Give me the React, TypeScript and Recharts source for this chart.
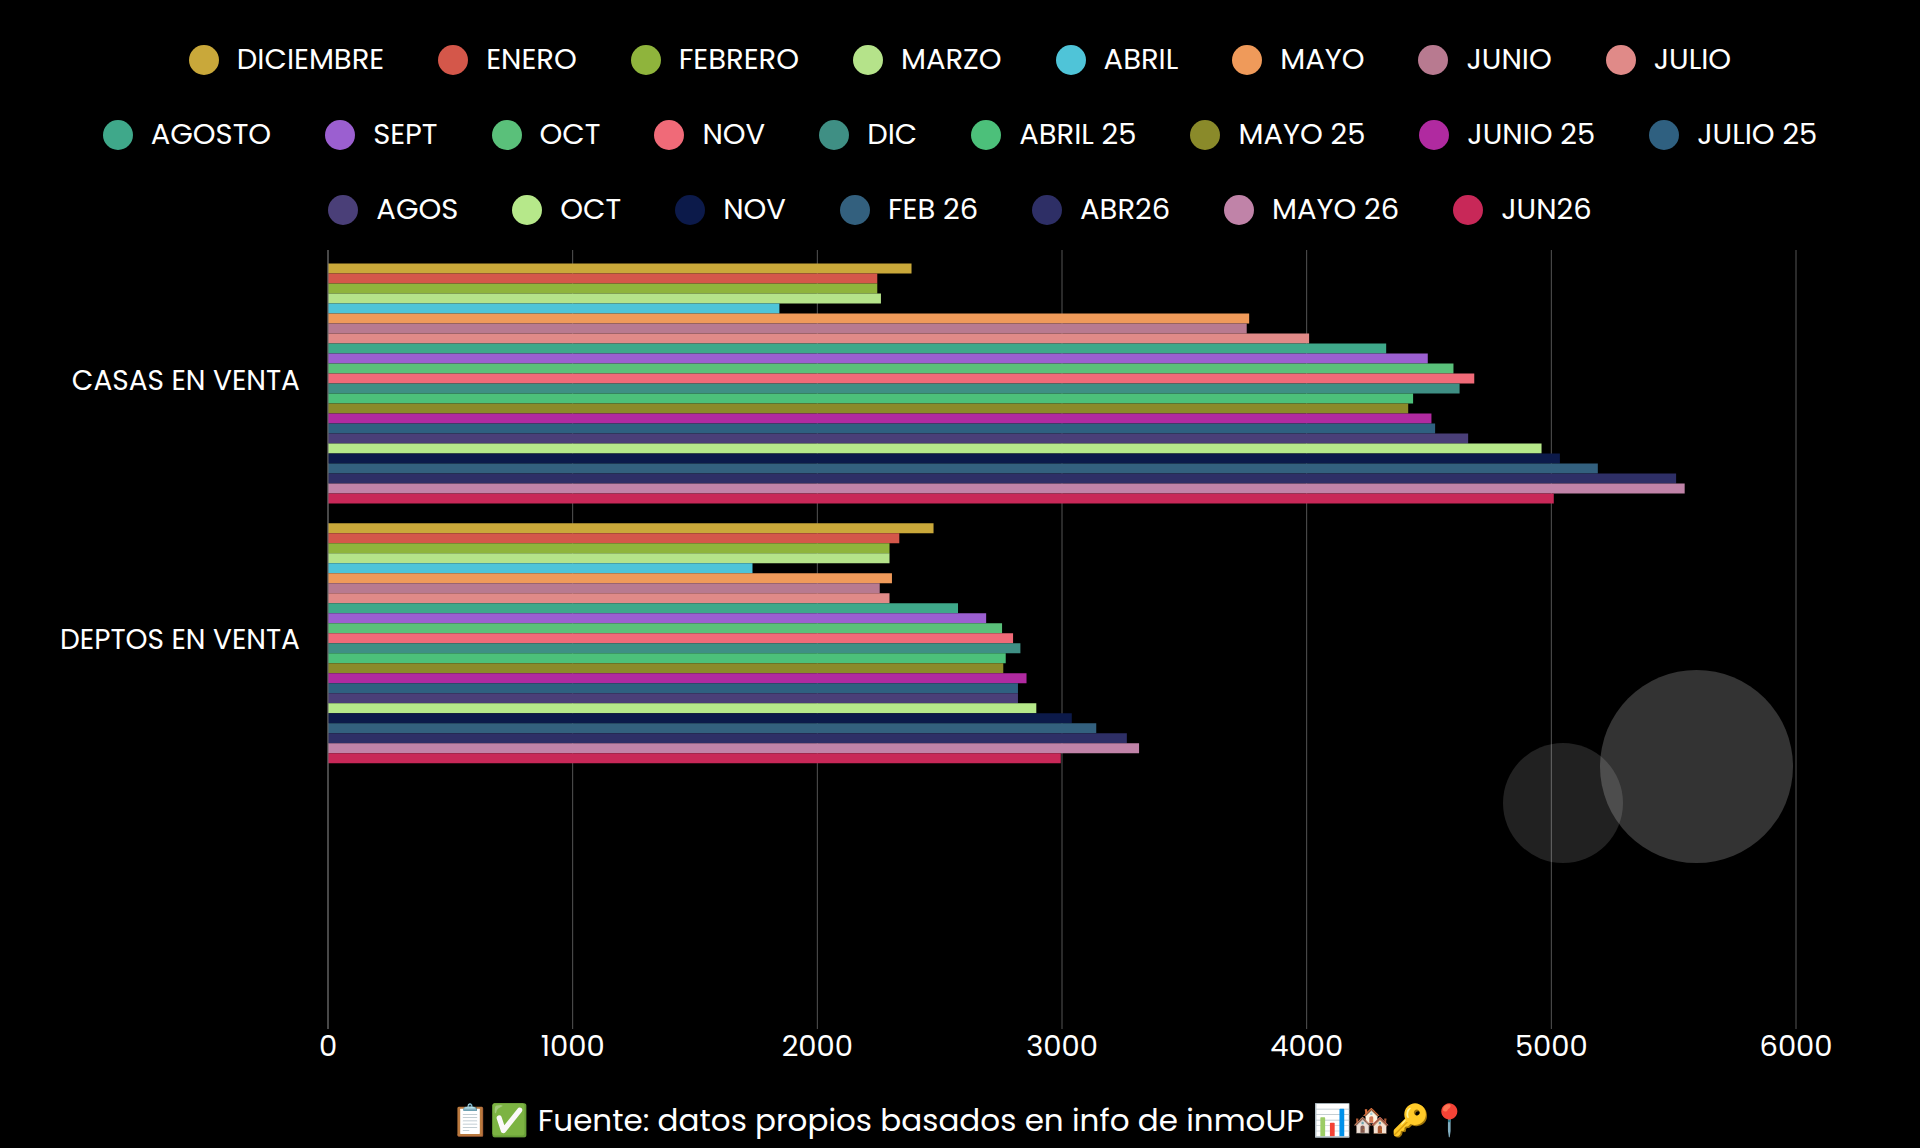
import React from 'react'
import { Bar, BarChart, CartesianGrid, XAxis, YAxis } from 'recharts'

const categories = ['CASAS EN VENTA', 'DEPTOS EN VENTA', '']
const seriesNames = ['DICIEMBRE', 'ENERO', 'FEBRERO', 'MARZO', 'ABRIL', 'MAYO', 'JUNIO', 'JULIO', 'AGOSTO', 'SEPT', 'OCT', 'NOV', 'DIC', 'ABRIL 25', 'MAYO 25', 'JUNIO 25', 'JULIO 25', 'AGOS', 'OCT ', 'NOV ', 'FEB 26', 'ABR26', 'MAYO 26', 'JUN26']
const colors = ['#c9a83a', '#d4574a', '#8fb43c', '#b5e38a', '#4fc4d8', '#ef9a5a', '#b87a90', '#e08a88', '#3fa88a', '#9b5fd0', '#5ac07a', '#f06a78', '#3f8f84', '#4cc07a', '#8a8a2a', '#b02aa0', '#2f6080', '#4a3f78', '#b6e88a', '#0c1a4a', '#33607e', '#2e2f66', '#c083a8', '#c82858']
const casas = [2385, 2245, 2245, 2260, 1845, 3765, 3755, 4010, 4325, 4495, 4600, 4685, 4625, 4435, 4415, 4510, 4525, 4660, 4960, 5035, 5190, 5510, 5545, 5010]
const deptos = [2475, 2335, 2295, 2295, 1735, 2305, 2255, 2295, 2575, 2690, 2755, 2800, 2830, 2770, 2760, 2855, 2820, 2820, 2895, 3040, 3140, 3265, 3315, 2995]
const ticks = [0, 1000, 2000, 3000, 4000, 5000, 6000]
const legendRows = [[0, 8], [8, 17], [17, 24]]

const data = categories.map((c, ci) => {
  const row: Record<string, string | number | null> = { name: c }
  seriesNames.forEach((s, i) => {
    row['s' + i] = ci === 0 ? casas[i] : ci === 1 ? deptos[i] : null
  })
  return row
})

const font = 'Poppins, "Open Sans", sans-serif'

export default function App() {
  return (
    <div style={{ position: 'fixed', left: 0, top: 0, width: 1920, height: 1148, background: '#000', fontFamily: font, color: '#fff', overflow: 'hidden' }}>
      {legendRows.map(([a, b], r) => (
        <div key={r} style={{ position: 'absolute', top: 38 + r * 75, left: 0, width: 1920, display: 'flex', justifyContent: 'center', gap: 54 }}>
          {seriesNames.slice(a, b).map((s, k) => (
            <div key={k} style={{ display: 'flex', alignItems: 'center', fontSize: 29 }}>
              <span style={{ width: 30, height: 30, borderRadius: 15, background: colors[a + k], marginRight: 18, display: 'inline-block' }} />
              {s.trim()}
            </div>
          ))}
        </div>
      ))}
      <div style={{ position: 'absolute', top: 250, left: 0 }}>
        <BarChart width={1920} height={824} data={data} layout="vertical" barGap={0} barCategoryGap="5.2%" margin={{ top: 0, right: 124, left: 0, bottom: 0 }}>
          <CartesianGrid vertical horizontal={false} stroke="#555" />
          <XAxis type="number" domain={[0, 6000]} ticks={ticks} tick={{ fill: '#fff', fontSize: 29, fontFamily: font }} axisLine={false} tickLine={false} height={45} tickMargin={0} />
          <YAxis type="category" dataKey="name" width={328} tick={{ fill: '#fff', fontSize: 28, fontFamily: font }} axisLine={{ stroke: '#666' }} tickLine={false} tickMargin={22} />
          {seriesNames.map((s, i) => (
            <Bar key={i} dataKey={'s' + i} name={s} fill={colors[i]} isAnimationActive={false} />
          ))}
        </BarChart>
      </div>
      <div style={{ position: 'absolute', left: 1503, top: 743, width: 120, height: 120, borderRadius: 60, background: 'rgba(255,255,255,0.13)' }} />
      <div style={{ position: 'absolute', left: 1600, top: 670, width: 193, height: 193, borderRadius: 97, background: 'rgba(255,255,255,0.2)' }} />
      <div style={{ position: 'absolute', top: 1097, left: 0, width: 1920, textAlign: 'center', fontSize: 31 }}>
        📋✅ Fuente: datos propios basados en info de inmoUP 📊🏘️🔑📍
      </div>
    </div>
  )
}
